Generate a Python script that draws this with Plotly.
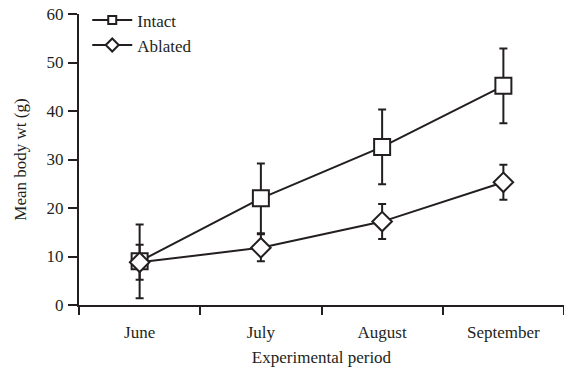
import plotly.graph_objects as go

months = ["June", "July", "August", "September"]
intact_mean = [9.0, 22.0, 32.6, 45.2]
intact_err = [7.6, 7.2, 7.7, 7.7]
ablated_mean = [8.8, 11.8, 17.2, 25.3]
ablated_err = [3.6, 2.8, 3.6, 3.6]
y_ticks = [0, 10, 20, 30, 40, 50, 60]
series_names = ["Intact", "Ablated"]

FONT = "Liberation Serif"
BLACK = "#231f20"

fig = go.Figure()
fig.add_trace(go.Scatter(
    x=months, y=intact_mean, name=series_names[0], mode="lines+markers",
    line=dict(color=BLACK, width=2),
    marker=dict(symbol="square", size=16, color="white", line=dict(color=BLACK, width=2)),
    error_y=dict(type="data", array=intact_err, color=BLACK, thickness=2, width=4),
    cliponaxis=False, showlegend=False,
))
fig.add_trace(go.Scatter(
    x=months, y=ablated_mean, name=series_names[1], mode="lines+markers",
    line=dict(color=BLACK, width=2),
    marker=dict(symbol="diamond", size=15, color="white", line=dict(color=BLACK, width=2)),
    error_y=dict(type="data", array=ablated_err, color=BLACK, thickness=2, width=4),
    cliponaxis=False, showlegend=False,
))
# legend entries with smaller symbols, as in the reference
for name, sym, sz in [(series_names[0], "square", 8), (series_names[1], "diamond", 10)]:
    fig.add_trace(go.Scatter(
        x=[None], y=[None], name=name, mode="lines+markers",
        line=dict(color=BLACK, width=2),
        marker=dict(symbol=sym, size=sz, color="white", line=dict(color=BLACK, width=2)),
    ))

fig.update_layout(
    width=564, height=374,
    margin=dict(l=79, r=0, t=14, b=69, autoexpand=False),
    paper_bgcolor="white", plot_bgcolor="white",
    font=dict(family=FONT, size=17, color=BLACK),
    showlegend=True,
    legend=dict(x=0.017, y=1.04, xanchor="left", yanchor="top",
                bgcolor="rgba(0,0,0,0)", font=dict(size=17, family=FONT),
                tracegroupgap=0, itemwidth=40, borderwidth=0),
    xaxis=dict(
        type="category", range=[-0.5, 3.5], showline=True, linecolor=BLACK, linewidth=2,
        ticks="outside", tickson="boundaries", ticklen=8, tickwidth=2, tickcolor=BLACK,
        showgrid=False, zeroline=False, ticklabelstandoff=11, ticklabeloverflow="allow",
        title=dict(text="Experimental period", font=dict(size=17, family=FONT), standoff=10),
        tickfont=dict(size=17, family=FONT),
    ),
    yaxis=dict(
        range=[0, 60], tickvals=y_ticks, showline=True, linecolor=BLACK, linewidth=2,
        ticks="outside", ticklen=9, tickwidth=2, tickcolor=BLACK,
        showgrid=False, zeroline=False, ticklabelstandoff=1, ticklabeloverflow="allow",
        title=dict(text="Mean body wt (g)", font=dict(size=17, family=FONT), standoff=16),
        tickfont=dict(size=17, family=FONT),
    ),
)

# remove the page's default body margin so the figure fills the window exactly
fig.write_html("out.html", config={"displayModeBar": False},
               post_script="document.body.style.margin='0';")
